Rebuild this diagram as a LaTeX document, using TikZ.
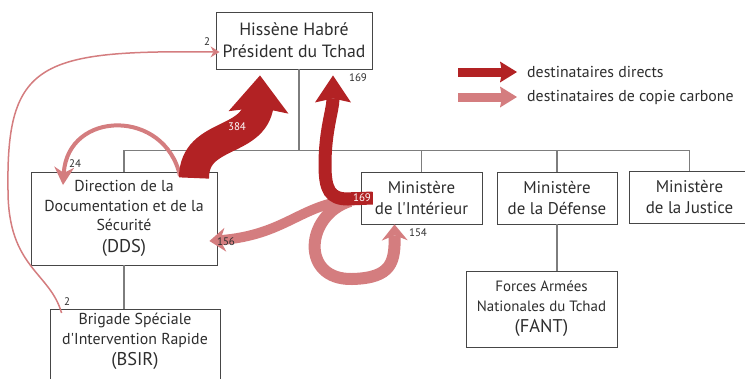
\documentclass[tikz,border=0pt]{standalone}
\usepackage{fontspec}
\setmainfont{PT Sans}[Ligatures=TeXOff]
\usetikzlibrary{positioning, arrows.meta}
\definecolor{direct}{RGB}{178,34,36}
\definecolor{copie}{RGB}{212,125,127}
\definecolor{boxline}{RGB}{70,70,70}
\definecolor{treeline}{RGB}{125,125,125}
\definecolor{txt}{RGB}{45,45,45}

\begin{document}
\begin{tikzpicture}[x=1bp, y=-1bp,
    box/.style={draw=boxline, line width=0.9bp, inner sep=0pt, align=center, text=txt},
    huge/.style={font=\fontsize{17.8}{22}\selectfont},
    big/.style={font=\fontsize{17}{22}\selectfont},
    small/.style={font=\fontsize{15.9}{19.5}\selectfont},
    tree/.style={draw=treeline, line width=1.1bp},
    num/.style={font=\fontsize{11}{12}\selectfont, text=txt, inner sep=0pt}]
    \useasboundingbox (0,0) rectangle (745,378);

    % Boxes
    \node[box, huge, minimum width=156bp, minimum height=57bp] (H) at (294,40.5) {Hissène Habré\\Président du Tchad};
    \node[box, small, minimum width=186bp, minimum height=93bp] (DDS) at (124,218.5) {Direction de la\\Documentation et de la\\Sécurité\\[2bp]{\fontsize{18.5}{20}\selectfont (DDS)}};
    \node[box, minimum width=170bp, minimum height=90bp, anchor=north] (BSIR) at (135,309) {};
    \node[small, align=center, text=txt, below=1bp of BSIR.north] (BSIRt) {Brigade Spéciale\\d'Intervention Rapide\\[2bp]{\fontsize{18.5}{20}\selectfont (BSIR)}};
    \node[box, big, minimum width=121bp, minimum height=52bp] (Int) at (421.5,198) {Ministère\\de l'Intérieur};
    \node[box, big, minimum width=120bp, minimum height=52bp] (Def) at (557,198) {Ministère\\de la Défense};
    \node[box, big, minimum width=121bp, minimum height=52bp] (Jus) at (689.5,197) {Ministère\\de la Justice};
    \node[box, font=\fontsize{15}{19.5}\selectfont, minimum width=151bp, minimum height=76bp] (FANT) at (541.5,309) {Forces Armées\\Nationales du Tchad\\[2bp]{\fontsize{18.5}{20}\selectfont (FANT)}};

    % Tree
    \draw[tree] ([xshift=5bp]H.south) -- ++(0,81) coordinate (bus);
    \draw[tree] (DDS.north) |- (bus) -| (Jus.north);
    \draw[tree] (Int.north) -- (Int.north |- bus);
    \draw[tree] (Def.north) -- (Def.north |- bus);
    \draw[tree] (DDS.south) -- (DDS.south |- BSIR.north);
    \draw[tree] (Def.south) -- (Def.south |- FANT.north);

    % Copies
    \draw[copie, line width=1.5bp, -{Stealth[length=9bp, width=11bp, line width=0pt]}]
        ([xshift=12bp, yshift=-4bp]BSIR.north west) .. controls (50,272) and (8,268) .. (8,190)
        .. controls (6,62) and (40,50) .. ([xshift=4bp]H.west |- 0,52);
    \draw[copie, line width=4bp, -{Stealth[length=18bp, width=20bp, line width=0pt]}]
        (180,176) .. controls (165,108) and (68,110) .. (63,185);
    \draw[copie, line width=10bp, -{Stealth[length=16bp, width=24bp, line width=0pt]}]
        (350,200) .. controls (300,205) and (285,235) .. ([xshift=-8bp]DDS.east |- 0,241);
    \draw[copie, line width=12bp, -{Stealth[length=16bp, width=26bp, line width=0pt]}]
        (350,201) .. controls (305,215) and (300,280) .. (352,279)
        .. controls (392,278) and (395,262) .. ([xshift=-27bp]Int.south);

    % Directs
    \draw[direct, line width=30bp, -{Stealth[length=37bp, width=60bp, inset=5bp, line width=0pt]}]
        (194,178) .. controls (194,130) and (258,145) .. (259,100) -- ([xshift=-34bp, yshift=-6bp]H.south);
    \draw[direct, line width=13bp, -{Stealth[length=27bp, width=36bp, inset=4bp, line width=0pt]}]
        ([xshift=12bp]Int.west) -- (348,199) .. controls (330,199) and (325,190) .. (325,165)
        .. controls (325,130) and (333,110) .. ([xshift=39bp, yshift=-6bp]H.south);
    \node[fill=direct, text=white, font=\fontsize{11}{12}\selectfont, inner sep=2bp] (n169) at (362,198) {169};

    % Numbers
    \node[num] (n2a) at (207,42) {2};
    \node[num] (n2b) at (67,302) {2};
    \node[num] (n24) at (75,164) {24};
    \node[num] (n169b) at (358,78) {169};
    \node[num, text=white] (n384) at (237,127) {384};
    \node[num] (n156) at (226,242) {156};
    \node[num] (n154) at (418,233) {154};

    % Legend
    \coordinate (ld) at (458,72);
    \coordinate (lc) at (458,97);
    \draw[direct, line width=9bp, -{Stealth[length=17bp, width=21bp, inset=2bp, line width=0pt]}] (ld) -- ++(59,0);
    \draw[copie, line width=9bp, -{Stealth[length=17bp, width=21bp, inset=2bp, line width=0pt]}] (lc) -- ++(59,0);
    \node[anchor=west, font=\fontsize{15.9}{16}\selectfont, text=txt, inner sep=0pt] (tld) at (527,72) {destinataires directs};
    \node[anchor=west, font=\fontsize{15.9}{16}\selectfont, text=txt, inner sep=0pt] (tlc) at (527,97) {destinataires de copie carbone};
\end{tikzpicture}
\end{document}
